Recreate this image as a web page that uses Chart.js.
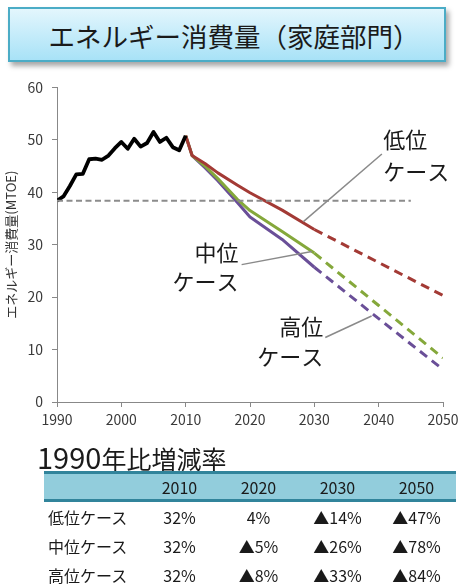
<!DOCTYPE html>
<html lang="ja">
<head>
<meta charset="utf-8">
<script src="https://cdn.jsdelivr.net/npm/chart.js@4.4.1/dist/chart.umd.min.js"></script>
<style>
  html, body { margin:0; padding:0; background:#fff; }
  body { width:463px; height:585px; position:relative; overflow:hidden;
         font-family:'Noto Sans CJK JP', sans-serif; color:#1a1a1a; }
  #titlebox { position:absolute; left:8px; top:7px; width:438px; height:55px;
    border:2px solid #4bacc6; background:linear-gradient(#e3f6fd, #a8e2f7);
    box-shadow:3px 4px 5px rgba(0,0,0,0.35);
    display:flex; align-items:center; justify-content:center;
    font-size:26.5px; line-height:1; padding-top:3px; padding-left:14px; box-sizing:border-box; }
  #chartwrap { position:absolute; left:0; top:70px; width:463px; height:370px; }
  #tabletitle { position:absolute; left:37px; top:440px; font-size:25px; line-height:32px; white-space:nowrap; }
  #tabletitle .num { font-size:29px; }
  #tbl { position:absolute; left:44px; top:471px; width:412px; border-collapse:collapse; table-layout:fixed; font-size:16px; }
  #tbl th { background:#92cddc; font-weight:normal; height:25px; padding:0;
            border-top:3px solid #31849b; border-bottom:3px solid #31849b; }
  #tbl td { height:29px; padding:0; text-align:center; }
  #tbl td.lab { text-align:left; padding-left:4px; }
</style>
</head>
<body>
<div id="titlebox">エネルギー消費量（家庭部門）</div>
<div id="chartwrap"><canvas id="c" width="463" height="370"></canvas></div>
<div id="tabletitle"><span class="num">1990</span>年比増減率</div>
<table id="tbl"></table>
<script>
// ---------- data ----------
const histYears  = [1990,1991,1992,1993,1994,1995,1996,1997,1998,1999,2000,2001,2002,2003,2004,2005,2006,2007,2008,2009,2010];
const histValues = [38.4,39.2,41.2,43.4,43.5,46.3,46.4,46.2,47.0,48.4,49.6,48.3,50.2,48.7,49.4,51.5,49.6,50.4,48.6,48.0,50.8];

const projYears  = [2010,2011,2013,2015,2018,2020,2025,2030];
const lowSolid   = [50.8,47.0,45.5,43.7,41.4,39.9,36.6,32.9];
const midSolid   = [50.8,47.0,45.0,42.6,38.7,36.5,32.5,28.4];
const highSolid  = [50.8,47.0,44.7,42.2,38.1,35.3,31.0,25.7];

const futureYears = [2030,2040,2050];
const lowFuture   = [32.9,26.6,20.3];
const midFuture   = [28.4,18.4,8.4];
const highFuture  = [25.7,15.9,6.2];

const baseYears  = [1990,2045];
const baseValues = [38.4,38.4];

const xTicks = [1990,2000,2010,2020,2030,2040,2050];
const yTicks = [0,10,20,30,40,50,60];

const tableYears  = ['2010','2020','2030','2050'];
const tableCases  = ['低位ケース','中位ケース','高位ケース'];
const tableLow    = ['32%','4%','▲14%','▲47%'];
const tableMid    = ['32%','▲5%','▲26%','▲78%'];
const tableHigh   = ['32%','▲8%','▲33%','▲84%'];

// ---------- table ----------
(function(){
  const t = document.getElementById('tbl');
  let h = '<colgroup><col style="width:96px"><col style="width:79px"><col style="width:79px"><col style="width:79px"><col style="width:79px"></colgroup>';
  h += '<tr><th></th>' + tableYears.map(y=>'<th>'+y+'</th>').join('') + '</tr>';
  [tableLow,tableMid,tableHigh].forEach((row,i)=>{
    h += '<tr><td class="lab">'+tableCases[i]+'</td>' + row.map(v=>'<td>'+v+'</td>').join('') + '</tr>';
  });
  t.innerHTML = h;
})();

// ---------- chart ----------
const pts = (xs, ys) => xs.map((x,i)=>({x:x, y:ys[i]}));
const RED='#a33a35', GREEN='#85a83b', PURPLE='#6a4f98';

const callouts = [
  {lines:['低位','ケース'], tx:2040.7, ty:[50.0,43.9], align:'left',  from:[2028.3,34.4], to:[2040.5,47.3]},
  {lines:['中位','ケース'], tx:2018.2, ty:[28.4,22.9], align:'right', from:[2029.6,28.7], to:[2018.7,26.2]},
  {lines:['高位','ケース'], tx:2031.4, ty:[14.4,8.7],  align:'right', from:[2038.9,16.4], to:[2031.7,12.3]}
];

const calloutPlugin = {
  id:'callouts',
  afterDatasetsDraw(chart){
    const {ctx, scales:{x, y}} = chart;
    ctx.save();
    callouts.forEach(c=>{
      ctx.strokeStyle='#8a8a8a'; ctx.lineWidth=1.5;
      ctx.beginPath();
      ctx.moveTo(x.getPixelForValue(c.from[0]), y.getPixelForValue(c.from[1]));
      ctx.lineTo(x.getPixelForValue(c.to[0]), y.getPixelForValue(c.to[1]));
      ctx.stroke();
      ctx.fillStyle='#1a1a1a';
      ctx.font="22px 'Noto Sans CJK JP', sans-serif";
      ctx.textAlign=c.align; ctx.textBaseline='middle';
      c.lines.forEach((l,i)=>ctx.fillText(l, x.getPixelForValue(c.tx), y.getPixelForValue(c.ty[i])));
    });
    ctx.restore();
  }
};

Chart.defaults.font.family = "'Noto Sans CJK JP', sans-serif";

new Chart(document.getElementById('c'), {
  type:'line',
  data:{ datasets:[
    {data:pts(baseYears,baseValues), borderColor:'#8c8c8c', borderWidth:2, borderDash:[6,3.5]},
    {data:pts(histYears,histValues), borderColor:'#000', borderWidth:3.8},
    {data:pts(projYears,lowSolid),  borderColor:RED,    borderWidth:3},
    {data:pts(futureYears,lowFuture),  borderColor:RED,    borderWidth:3, borderDash:[9,6]},
    {data:pts(projYears,midSolid),  borderColor:GREEN,  borderWidth:3},
    {data:pts(futureYears,midFuture),  borderColor:GREEN,  borderWidth:3, borderDash:[9,6]},
    {data:pts(projYears,highSolid), borderColor:PURPLE, borderWidth:3},
    {data:pts(futureYears,highFuture), borderColor:PURPLE, borderWidth:3, borderDash:[9,6]}
  ]},
  options:{
    responsive:false, animation:false, devicePixelRatio:1,
    layout:{padding:{top:8, right:20, left:0, bottom:0}},
    elements:{ line:{tension:0, fill:false, borderJoinStyle:'round', borderCapStyle:'butt'}, point:{radius:0} },
    plugins:{ legend:{display:false}, tooltip:{enabled:false} },
    scales:{
      x:{ type:'linear', min:1990, max:2050,
          afterBuildTicks: s=>{ s.ticks = xTicks.map(v=>({value:v})); },
          afterFit: s=>{ s.height = 38; },
          ticks:{ callback:v=>String(v), color:'#3a3a3a', font:{size:14}, padding:4, maxRotation:0 },
          grid:{ display:true, drawOnChartArea:false, drawTicks:true, tickLength:5, color:'#888' },
          border:{ color:'#888', width:1 } },
      y:{ min:0, max:60,
          afterBuildTicks: s=>{ s.ticks = yTicks.map(v=>({value:v})); },
          afterFit: s=>{ s.width = 57; },
          ticks:{ color:'#3a3a3a', font:{size:14}, padding:9 },
          grid:{ display:true, drawOnChartArea:false, drawTicks:true, tickLength:5, color:'#888' },
          border:{ color:'#888', width:1 },
          title:{ display:true, text:'エネルギー消費量(MTOE)', color:'#333', font:{size:13}, padding:{top:3,bottom:0} } }
    }
  },
  plugins:[calloutPlugin]
});
</script>
</body>
</html>
